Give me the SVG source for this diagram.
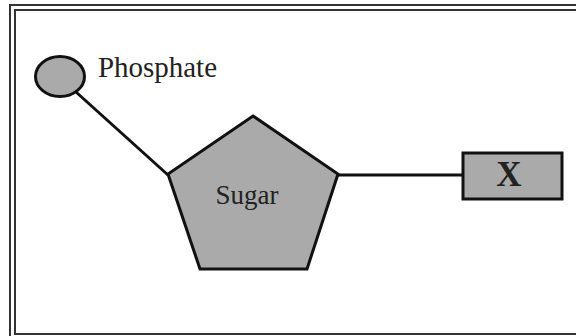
<svg xmlns="http://www.w3.org/2000/svg" width="576" height="336" viewBox="0 0 576 336">
<style>
.shape{fill:#aaaaaa;stroke:#111;stroke-width:3;stroke-linejoin:miter}
.conn{stroke:#111;stroke-width:3;fill:none}
.frame{fill:none;stroke:#333;stroke-width:2}
.lbl{font-family:"Liberation Serif","Times New Roman",serif;fill:#222}
</style>
<rect width="576" height="336" fill="#fff"/>
<rect class="frame" x="10" y="5" width="580" height="345"/>
<rect class="frame" x="15" y="10" width="570" height="324"/>
<g id="connectors">
<line class="conn" x1="76" y1="92" x2="168" y2="175"/>
<line class="conn" x1="338" y1="175" x2="463" y2="175"/>
</g>
<g id="phosphate">
<ellipse class="shape" cx="60" cy="76.5" rx="24.5" ry="20"/>
<text class="lbl" x="98" y="77" font-size="29" textLength="119" lengthAdjust="spacingAndGlyphs">Phosphate</text>
</g>
<g id="sugar">
<polygon class="shape" points="253,116 338,174 307,269 200,269 168,174"/>
<text class="lbl" x="247" y="204" font-size="27" text-anchor="middle">Sugar</text>
</g>
<g id="x">
<rect class="shape" x="463" y="153" width="99" height="46"/>
<text class="lbl" x="509" y="186" font-size="35" font-weight="bold" text-anchor="middle">X</text>
</g>
</svg>
